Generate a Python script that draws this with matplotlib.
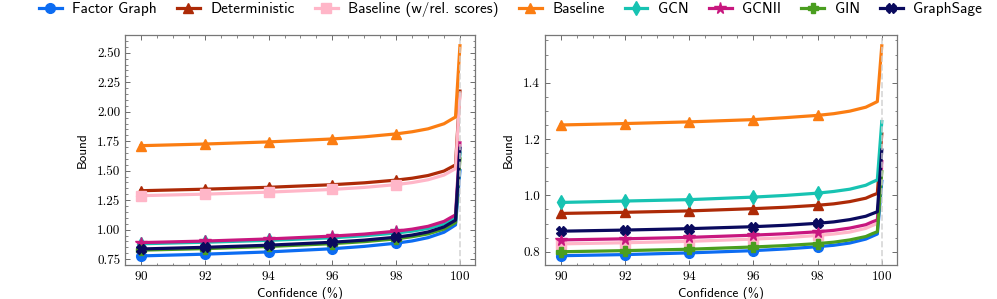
import matplotlib
matplotlib.use("Agg")
import matplotlib.pyplot as plt
from matplotlib.ticker import AutoMinorLocator, MultipleLocator, FormatStrFormatter

# ---------------- data ----------------
confidence = [90, 92, 94, 96, 97, 98, 98.5, 99, 99.5, 99.7, 99.86, 99.999]
marker_idx = [0, 1, 2, 3, 5]

series_names = ["Factor Graph", "Deterministic", "Baseline (w/rel. scores)", "Baseline",
                "GCN", "GCNII", "GIN", "GraphSage"]

left_factor_graph = [0.777, 0.792, 0.811, 0.838, 0.858, 0.885, 0.904, 0.932, 0.978, 1.012, 1.040, 1.50]
left_deterministic = [1.330, 1.343, 1.359, 1.381, 1.397, 1.420, 1.436, 1.459, 1.497, 1.526, 1.549, 2.175]
left_baseline_rel = [1.288, 1.301, 1.318, 1.341, 1.358, 1.382, 1.399, 1.423, 1.463, 1.493, 1.517, 2.15]
left_baseline = [1.712, 1.726, 1.744, 1.769, 1.787, 1.812, 1.830, 1.855, 1.898, 1.930, 1.955, 2.56]
left_gcn = [0.880, 0.893, 0.909, 0.931, 0.948, 0.971, 0.987, 1.010, 1.048, 1.077, 1.100, 1.65]
left_gcnii = [0.890, 0.903, 0.921, 0.945, 0.962, 0.987, 1.004, 1.028, 1.070, 1.101, 1.125, 1.737]
left_gin = [0.826, 0.839, 0.857, 0.881, 0.898, 0.922, 0.940, 0.964, 1.005, 1.036, 1.060, 1.60]
left_graphsage = [0.836, 0.850, 0.868, 0.893, 0.911, 0.936, 0.954, 0.980, 1.023, 1.055, 1.080, 1.69]

right_factor_graph = [0.786, 0.790, 0.796, 0.804, 0.810, 0.818, 0.823, 0.831, 0.845, 0.855, 0.863, 1.05]
right_deterministic = [0.936, 0.940, 0.945, 0.953, 0.958, 0.965, 0.970, 0.978, 0.990, 1.000, 1.007, 1.218]
right_baseline_rel = [0.828, 0.832, 0.837, 0.845, 0.850, 0.858, 0.863, 0.870, 0.883, 0.893, 0.900, 1.10]
right_baseline = [1.250, 1.255, 1.261, 1.269, 1.276, 1.284, 1.290, 1.299, 1.313, 1.324, 1.333, 1.531]
right_gcn = [0.975, 0.980, 0.985, 0.994, 1.000, 1.008, 1.014, 1.022, 1.036, 1.047, 1.055, 1.262]
right_gcnii = [0.842, 0.846, 0.851, 0.859, 0.864, 0.871, 0.876, 0.884, 0.896, 0.906, 0.913, 1.12]
right_gin = [0.800, 0.804, 0.809, 0.817, 0.822, 0.829, 0.834, 0.842, 0.854, 0.864, 0.871, 1.084]
right_graphsage = [0.873, 0.877, 0.882, 0.889, 0.894, 0.901, 0.906, 0.914, 0.926, 0.935, 0.942, 1.161]

left_values = [left_factor_graph, left_deterministic, left_baseline_rel, left_baseline,
               left_gcn, left_gcnii, left_gin, left_graphsage]
right_values = [right_factor_graph, right_deterministic, right_baseline_rel, right_baseline,
                right_gcn, right_gcnii, right_gin, right_graphsage]

colors = ["#0c6cf2", "#ad2a07", "#ffb6c8", "#fb7d12", "#17c3b2", "#c8177f", "#4a9e1f", "#0a0a5e"]
markers = ["o", "^", "s", "^", "d", "*", "P", "X"]

# ---------------- style ----------------
plt.rcParams.update({
    "font.family": "cmss10",
    "axes.formatter.use_mathtext": True,
    "xtick.direction": "in",
    "ytick.direction": "in",
    "xtick.top": True,
    "ytick.right": True,
    "xtick.major.size": 3.5,
    "ytick.major.size": 3.5,
    "xtick.minor.size": 1.8,
    "ytick.minor.size": 1.8,
    "xtick.major.width": 0.6,
    "ytick.major.width": 0.6,
    "xtick.minor.width": 0.5,
    "ytick.minor.width": 0.5,
    "xtick.color": "#555555",
    "ytick.color": "#555555",
    "axes.edgecolor": "#777777",
    "axes.linewidth": 0.9,
})

fig = plt.figure(figsize=(9.97, 2.99), dpi=100)
ax1 = fig.add_axes([0.1254, 0.1137, 0.351, 0.769])
ax2 = fig.add_axes([0.5466, 0.1137, 0.353, 0.769])

def draw(ax, values, ylim, ymajor, fmt):
    for name, vals, c, m in zip(series_names, values, colors, markers):
        ms = 8.5 if m == "*" else 7
        ax.plot(confidence, vals, color=c, lw=2.3, marker=m, markersize=ms,
                markevery=marker_idx, label=name)
    ax.axvline(100, color="#d0d0d0", ls="--", lw=1.2, alpha=0.85, zorder=10)
    ax.set_xlim(89.5, 100.47)
    ax.set_ylim(*ylim)
    ax.xaxis.set_major_locator(MultipleLocator(2))
    ax.yaxis.set_major_locator(MultipleLocator(ymajor))
    ax.yaxis.set_major_formatter(FormatStrFormatter(fmt))
    ax.xaxis.set_minor_locator(AutoMinorLocator())
    ax.yaxis.set_minor_locator(AutoMinorLocator())
    ax.tick_params(labelcolor="black", labelsize=9.5)
    for lab in ax.get_xticklabels() + ax.get_yticklabels():
        lab.set_fontfamily("cmr10")
    ax.set_xlabel("Confidence (%)", fontsize=9.5, labelpad=3)
    ax.set_ylabel("Bound", fontsize=9.5, labelpad=6)

draw(ax1, left_values, (0.70, 2.65), 0.25, "%.2f")
draw(ax2, right_values, (0.753, 1.569), 0.2, "%.1f")

handles, labels = ax1.get_legend_handles_labels()
fig.legend(handles, labels, loc="upper center", bbox_to_anchor=(0.512, 1.038), ncol=8,
           frameon=False, fontsize=11, handlelength=1.5, handletextpad=0.7,
           columnspacing=1.3)

fig.savefig("out.png", dpi=100)
